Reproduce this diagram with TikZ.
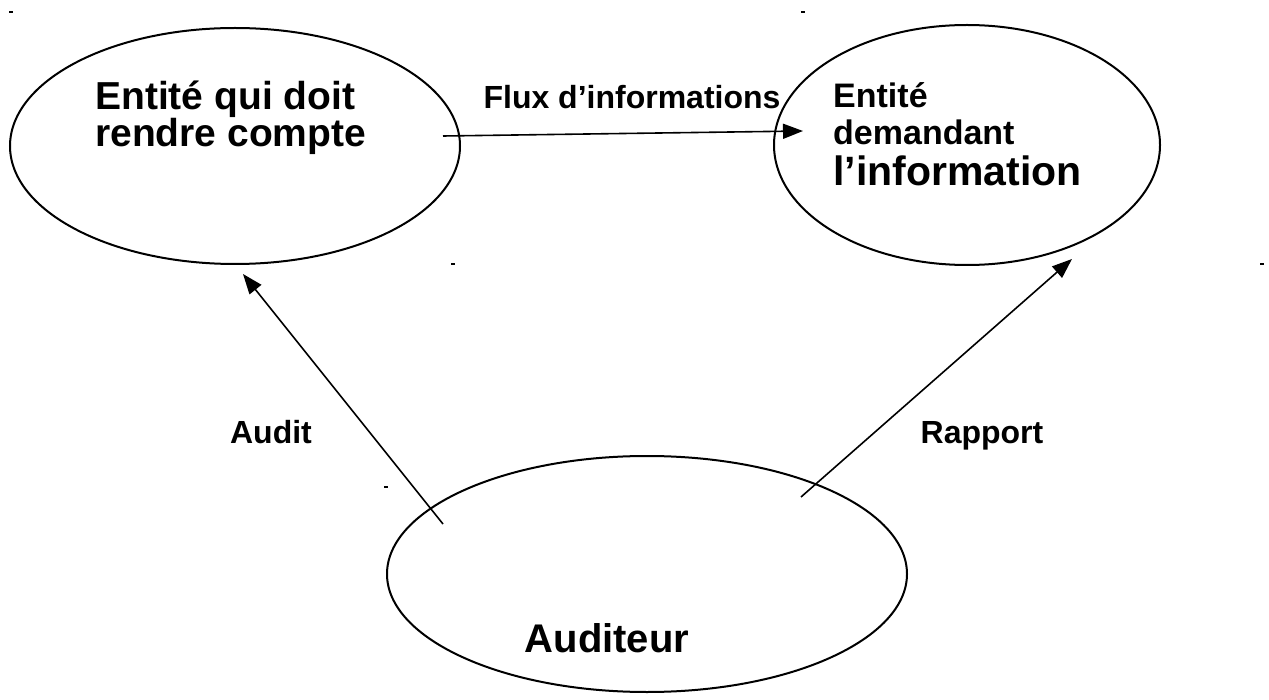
\documentclass[tikz,border=0pt]{standalone}
\usepackage{fontspec}
\setmainfont{Liberation Sans}
\usetikzlibrary{arrows.meta,shapes.geometric}
\begin{document}
\begin{tikzpicture}[x=1pt,y=-1pt,
  oval/.style={draw,line width=2pt,ellipse,inner sep=0pt},
  line/.style={font=\bfseries\fontsize{#1}{#1}\selectfont,inner sep=0pt,anchor=base west},
  small/.style={font=\bfseries\fontsize{32}{36}\selectfont,inner sep=0pt,anchor=base},
  flow/.style={line width=1.6pt,-{Triangle[length=20pt,width=15pt]}},
  speck/.style={fill=black,draw=none}]
\useasboundingbox (0,0) rectangle (1269,700);
% ellipses
\node[oval,minimum width=450pt,minimum height=236pt] (A) at (235,146) {};
\node[oval,minimum width=386pt,minimum height=240pt] (B) at (967,145) {};
\node[oval,minimum width=520pt,minimum height=236pt] (C) at (647,574) {};
% texts
\node[line=39] (tA1) at (95,110) {Entité qui doit};
\node[line=39] (tA2) at (95,147) {rendre compte};
\node[line=34] (tB1) at (833,108) {Entité};
\node[line=34] (tB2) at (833,145) {demandant};
\node[line=41] (tB3) at (833,186) {l’information};
\node[font=\bfseries\fontsize{40}{44}\selectfont,inner sep=0pt,anchor=base] (tC) at (607,652) {Auditeur};
% arrow endpoints
\coordinate (f1) at (443,136);
\coordinate (f2) at (803,131);
\coordinate (a1) at (443,524);
\coordinate (a2) at (243,274);
\coordinate (r1) at (801,497);
\coordinate (r2) at (1072,259);
\draw[flow] (f1) -- (f2);
\draw[flow] (a1) -- (a2);
\draw[flow] (r1) -- (r2);
% labels
\node[small] (lf) at (632,109) {Flux d’informations};
\node[small] (la) at (271,443) {Audit};
\node[small] (lr) at (982,443) {Rapport};
% specks
\fill[speck] (9,11) rectangle (13,13);
\fill[speck] (801,11) rectangle (805,13);
\fill[speck] (451,263) rectangle (455,265);
\fill[speck] (1260,263) rectangle (1264,265);
\fill[speck] (384,486) rectangle (388,488);
\end{tikzpicture}
\end{document}
